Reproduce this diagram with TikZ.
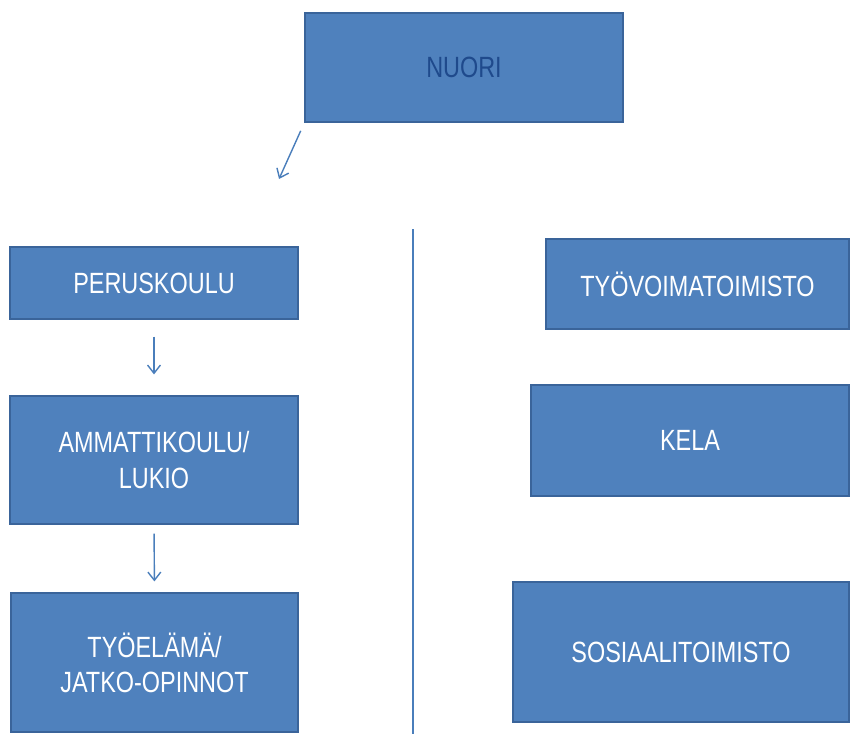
\documentclass[tikz,border=0pt]{standalone}
\usepackage{fontspec}
\setmainfont{Liberation Sans}[FakeStretch=0.8]
\usetikzlibrary{arrows.meta}

\definecolor{boxblue}{HTML}{4F81BD}
\definecolor{boxedge}{HTML}{3A649A}
\definecolor{lineblue}{HTML}{4A7EBB}
\definecolor{darkblue}{HTML}{1F4A8C}

\tikzset{
  laatikko/.style={draw=boxedge,line width=1pt,fill=boxblue,text=white,
    font=\fontsize{25}{30}\selectfont,align=center,inner sep=0pt},
  nuoli/.style={draw=lineblue,line width=1.2pt,-{Straight Barb[length=7pt,width=11pt]}}
}

\begin{document}
\begin{tikzpicture}[x=0.03cm,y=-0.03cm]
\useasboundingbox (0,0) rectangle (850,734);
\node[laatikko,text=darkblue,minimum width=318*0.03cm,minimum height=109*0.03cm] (nuori) at (464,67.5) {NUORI};
\node[laatikko,minimum width=288*0.03cm,minimum height=72*0.03cm] (perus) at (154,283) {PERUSKOULU};
\node[laatikko,minimum width=288*0.03cm,minimum height=128*0.03cm] (ammatti) at (154,460) {AMMATTIKOULU/\\LUKIO};
\node[laatikko,minimum width=287*0.03cm,minimum height=139*0.03cm] (tyoelama) at (154.5,662.5) {TYÖELÄMÄ/\\JATKO-OPINNOT};
\node[laatikko,minimum width=303*0.03cm,minimum height=90*0.03cm] (tyovoima) at (697.5,284) {TYÖVOIMATOIMISTO};
\node[laatikko,minimum width=318*0.03cm,minimum height=111*0.03cm] (kela) at (690,440.5) {KELA};
\node[laatikko,minimum width=336*0.03cm,minimum height=140*0.03cm] (sosiaali) at (681,652) {SOSIAALITOIMISTO};
% nuolet
\coordinate (alas) at (279,179);
\draw[nuoli,shorten <=0.27cm] (nuori.south west) -- (alas);
\draw[nuoli,shorten <=17*0.03cm,shorten >=21*0.03cm] (perus.south) -- (ammatti.north);
\draw[nuoli,shorten <=9*0.03cm,shorten >=11*0.03cm] (ammatti.south) -- (tyoelama.north);
% jakoviiva
\coordinate (viiva1) at (413,229);
\coordinate (viiva2) at (413,734);
\draw[lineblue,line width=1.5pt] (viiva1) -- (viiva2);
\end{tikzpicture}
\end{document}
